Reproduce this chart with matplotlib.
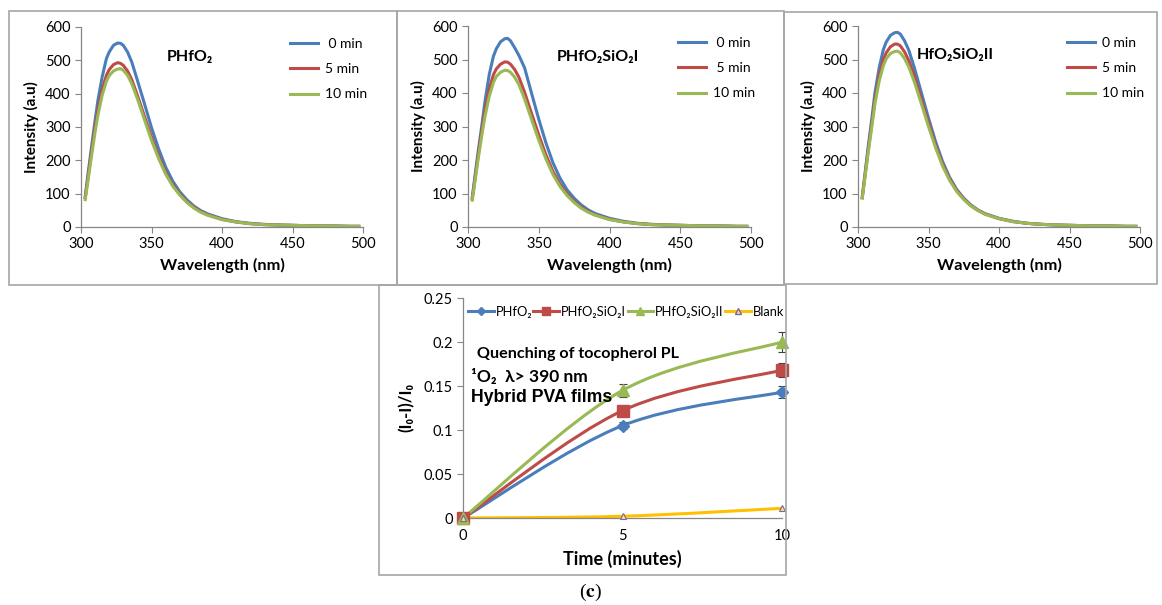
import matplotlib.pyplot as plt
from matplotlib.patches import Rectangle, PathPatch
from matplotlib.path import Path

plt.rcParams['font.family'] = ['Lato', 'DejaVu Sans']

# emission spectra
wl = [303, 305, 307, 310, 312, 315, 318, 320, 323, 326, 328, 330, 333, 336, 340, 345, 350, 355, 360, 365,
      370, 375, 380, 385, 390, 400, 410, 420, 430, 440, 450, 460, 470, 480, 490, 497]

p1_0 = [90, 160, 225, 320, 380, 450, 505, 525, 545, 552, 551, 545, 525, 495, 440, 370, 298, 235, 180, 138,
        106, 82, 63, 49, 39, 25, 16, 11, 8, 6, 5, 4, 3, 3, 2, 2]
p1_5 = [88, 150, 212, 300, 350, 412, 455, 472, 487, 493, 491, 485, 468, 442, 395, 332, 270, 213, 164, 127,
        99, 76, 59, 46, 36, 23, 15, 10, 7, 6, 5, 4, 3, 3, 2, 2]
p1_10 = [82, 140, 200, 285, 335, 395, 437, 454, 468, 474, 475, 470, 455, 430, 385, 322, 260, 206, 159, 123,
         96, 74, 57, 44, 35, 22, 15, 10, 7, 6, 5, 4, 3, 3, 2, 2]

p2_0 = [88, 155, 220, 310, 375, 455, 510, 532, 553, 562, 563, 556, 535, 512, 475, 398, 322, 252, 192, 146,
        111, 86, 66, 51, 40, 26, 17, 11, 8, 6, 5, 4, 3, 3, 2, 2]
p2_5 = [84, 145, 208, 295, 348, 412, 455, 472, 486, 493, 492, 486, 470, 447, 402, 338, 275, 216, 166, 128,
        99, 76, 59, 46, 36, 23, 15, 10, 7, 6, 5, 4, 3, 3, 2, 2]
p2_10 = [80, 138, 198, 280, 330, 390, 432, 449, 462, 468, 467, 462, 447, 425, 382, 320, 259, 204, 157, 121,
         94, 73, 56, 44, 35, 22, 15, 10, 7, 6, 5, 4, 3, 3, 2, 2]

p3_0 = [88, 160, 232, 330, 400, 475, 530, 552, 572, 580, 581, 576, 556, 528, 475, 400, 325, 255, 195, 148,
        112, 86, 66, 51, 40, 26, 17, 11, 8, 6, 5, 4, 3, 3, 2, 2]
p3_5 = [88, 155, 222, 315, 380, 450, 500, 520, 538, 546, 546, 541, 523, 497, 450, 380, 310, 244, 187, 143,
        109, 84, 64, 50, 39, 25, 16, 11, 8, 6, 5, 4, 3, 3, 2, 2]
p3_10 = [86, 150, 215, 305, 368, 435, 482, 502, 518, 524, 525, 520, 503, 478, 433, 367, 300, 237, 182, 139,
         106, 82, 63, 49, 38, 25, 16, 11, 8, 6, 5, 4, 3, 3, 2, 2]

# quenching kinetics
t = [0, 5, 10]
q_hfo2 = [0, 0.105, 0.143]
q_hfo2_err = [0, 0.004, 0.007]
q_sio2i = [0, 0.122, 0.168]
q_sio2i_err = [0, 0.003, 0.008]
q_sio2ii = [0, 0.145, 0.200]
q_sio2ii_err = [0, 0.007, 0.011]
q_blank = [0, 0.002, 0.011]

blue = '#4A7EBB'
red = '#BE4B48'
green = '#98B954'
gray = '#868686'

fig = plt.figure(figsize=(11.62, 6.05), dpi=100)
W, H = 1162, 605


def fig_rect(x0, y0, x1, y1):
    return [x0 / W, 1 - y1 / H, (x1 - x0) / W, (y1 - y0) / H]


# panel frames
for x0, y0, x1, y1 in [(9, 11, 397, 285), (397, 11, 784, 285), (784, 12, 1157, 284), (379, 285, 786, 575)]:
    fig.patches.append(Rectangle((x0 / W, 1 - y1 / H), (x1 - x0) / W, (y1 - y0) / H,
                                 transform=fig.transFigure, fill=False, edgecolor='#a6a6a6', lw=1.2))


def style_axes(ax):
    for s in ['top', 'right']:
        ax.spines[s].set_visible(False)
    for s in ['left', 'bottom']:
        ax.spines[s].set_color(gray)
        ax.spines[s].set_linewidth(0.9)
    ax.tick_params(direction='out', color=gray, length=4, labelsize=10.5, labelcolor='black')


panels = [
    (fig_rect(81, 27, 363, 227), [p1_0, p1_5, p1_10], 'PHfO\u2082', (167, 57), [' 0 min', '5 min', '10 min']),
    (fig_rect(468, 26, 751, 227), [p2_0, p2_5, p2_10], 'PHfO\u2082SiO\u2082I', (557, 57), [' 0 min', ' 5 min', '10 min']),
    (fig_rect(858, 26, 1140, 227), [p3_0, p3_5, p3_10], 'HfO\u2082SiO\u2082II', (917, 55), ['0 min', '5 min', '10 min']),
]

for rect, series, title, (tx, ty), labels in panels:
    ax = fig.add_axes(rect)
    for ys, c, lab in zip(series, [blue, red, green], labels):
        ax.plot(wl, ys, color=c, lw=2.2, label=lab, solid_joinstyle='round')
    ax.set_xlim(300, 500)
    ax.set_ylim(0, 600)
    ax.set_xticks([300, 350, 400, 450, 500])
    ax.set_yticks(range(0, 601, 100))
    style_axes(ax)
    ax.set_xlabel('Wavelength (nm)', fontsize=11.8, fontweight='bold', labelpad=5)
    ax.set_ylabel('Intensity (a.u)', fontsize=11, fontweight='bold', labelpad=4)
    fig.text(tx / W, 1 - ty / H, title, fontsize=11.5, fontweight='bold', ha='left', va='center')
    ax.legend(loc='upper left', bbox_to_anchor=(0.742, 0.945), frameon=False, fontsize=10,
              handlelength=2.0, handletextpad=0.5, labelspacing=0.95, borderpad=0, borderaxespad=0)

# bottom panel
ax = fig.add_axes(fig_rect(463, 298, 782, 518))


def smooth_path(xs, ys):
    # Catmull-Rom style bezier through the data points (Excel "smoothed line")
    verts = [(xs[0], ys[0])]
    codes = [Path.MOVETO]
    n = len(xs)
    for i in range(n - 1):
        x0, y0 = (xs[i - 1], ys[i - 1]) if i > 0 else (xs[i], ys[i])
        x1, y1 = xs[i], ys[i]
        x2, y2 = xs[i + 1], ys[i + 1]
        x3, y3 = (xs[i + 2], ys[i + 2]) if i + 2 < n else (x2, y2)
        c1 = (x1 + (x2 - x0) / 6, y1 + (y2 - y0) / 6)
        c2 = (x2 - (x3 - x1) / 6, y2 - (y3 - y1) / 6)
        verts += [c1, c2, (x2, y2)]
        codes += [Path.CURVE4] * 3
    return Path(verts, codes)


kin = [
    (q_hfo2, q_hfo2_err, blue, 'D', 6, 'PHfO\u2082'),
    (q_sio2i, q_sio2i_err, red, 's', 8, 'PHfO\u2082SiO\u2082I'),
    (q_sio2ii, q_sio2ii_err, green, '^', 8.5, 'PHfO\u2082SiO\u2082II'),
]
handles = []
for ys, err, c, m, ms, lab in kin:
    ax.add_patch(PathPatch(smooth_path(t, ys), fill=False, edgecolor=c, lw=2.2))
    ax.errorbar(t, ys, yerr=err, fmt='none', ecolor='#404040', elinewidth=0.8, capsize=3,
                capthick=0.8, clip_on=False)
    ax.plot(t, ys, ls='none', color=c, marker=m, ms=ms, clip_on=False, zorder=4)
    handles.append(plt.Line2D([], [], color=c, lw=2.2, marker=m, ms=ms * 0.75, label=lab))
ax.add_patch(PathPatch(smooth_path(t, q_blank), fill=False, edgecolor='#FFC000', lw=2.2))
ax.plot(t, q_blank, ls='none', marker='^', ms=4.5, mfc='#F5E38A', mec='#8064A2', mew=0.8,
        clip_on=False, zorder=4)
handles.append(plt.Line2D([], [], color='#FFC000', lw=2.2, marker='^', ms=4, mfc='#F5E38A',
                          mec='#8064A2', label='Blank'))

ax.set_xlim(0, 10)
ax.set_ylim(0, 0.25)
ax.set_xticks([0, 5, 10])
ax.set_yticks([0, 0.05, 0.1, 0.15, 0.2, 0.25])
ax.set_yticklabels(['0', '0.05', '0.1', '0.15', '0.2', '0.25'])
style_axes(ax)
ax.tick_params(axis='x', length=0, pad=8)
ax.set_xlabel('Time (minutes)', fontsize=13, fontweight='bold', labelpad=5)
ax.set_ylabel('(I\u2080-I)/I\u2080', fontsize=12, fontweight='bold', labelpad=6)
ax.legend(handles=handles, loc='upper left', bbox_to_anchor=(0.015, 0.965), ncol=4, frameon=False,
          fontsize=9.3, handlelength=2.0, handletextpad=0.15, columnspacing=0.1, borderaxespad=0,
          borderpad=0)

fig.text(473 / W, 1 - 354 / H, ' Quenching of tocopherol PL', fontsize=11.6, fontweight='bold', va='center')
fig.text(471 / W, 1 - 377 / H, '\u00b9O\u2082  \u03bb> 390 nm', fontsize=12.5, fontweight='bold', va='center')
fig.text(471 / W, 1 - 398 / H, 'Hybrid PVA films', fontsize=12.7, fontweight='bold', va='center',
         family=['Liberation Sans', 'DejaVu Sans'])

fig.text(590 / W, 1 - 592 / H, r'($\mathbf{c}$)', fontsize=14, ha='center', va='center',
         family='Liberation Serif', math_fontfamily='stix')

fig.savefig('out.png', dpi=100)
